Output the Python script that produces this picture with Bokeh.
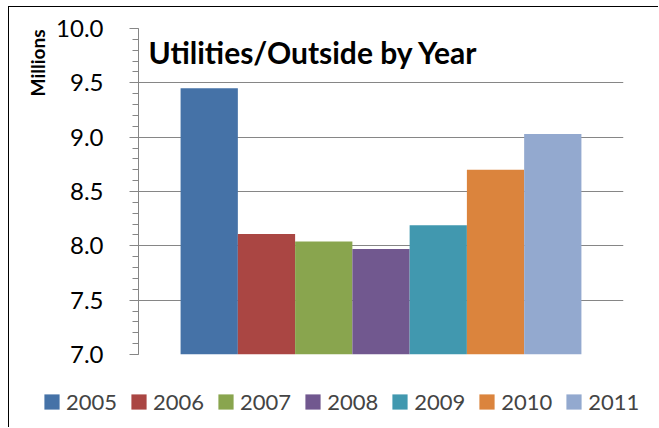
from bokeh.plotting import figure
from bokeh.layouts import column
from bokeh.models import (FactorRange, Range1d, SingleIntervalTicker, Label, Legend,
                          LegendItem, NumeralTickFormatter, ColumnDataSource, Title)
from bokeh.embed import file_html
from bokeh.resources import INLINE

# ---- data ----
years = ["2005", "2006", "2007", "2008", "2009", "2010", "2011"]
values = [9.45, 8.11, 8.04, 7.97, 8.19, 8.70, 9.03]
colors = ["#4572A7", "#AA4643", "#89A54E", "#71588F", "#4198AF", "#DB843D", "#93A9CF"]
y_min, y_max, y_step = 7.0, 10.0, 0.5
title_text = "Utilities/Outside by Year"
unit_text = "Millions"

GRAY = "#868686"
FONT = "Lato"

src = ColumnDataSource(dict(year=years, value=values, color=colors))
x_range = FactorRange(factors=years, range_padding=0.21)

# ---- main chart ----
p = figure(width=649, height=373, x_range=x_range, y_range=Range1d(y_min, y_max),
           x_axis_location=None, output_backend="svg", toolbar_location=None,
           min_border_left=129, min_border_right=35,
           min_border_top=21, min_border_bottom=26)
p.outline_line_color = None
p.background_fill_color = "white"
p.border_fill_color = "white"

r = p.vbar(x="year", top="value", bottom=y_min, width=1.0, fill_color="color",
           line_color=None, source=src)

yax = p.yaxis[0]
yax.ticker = SingleIntervalTicker(interval=y_step, num_minor_ticks=5)
yax.formatter = NumeralTickFormatter(format="0.0")
yax.axis_line_color = GRAY
yax.major_tick_line_color = GRAY
yax.minor_tick_line_color = GRAY
yax.major_tick_out = 9
yax.major_tick_in = 0
yax.minor_tick_out = 6
yax.minor_tick_in = 0
yax.major_label_standoff = 26
yax.major_label_text_font = FONT
yax.major_label_text_font_size = "24px"
yax.major_label_text_color = "black"

p.xgrid.grid_line_color = None
p.ygrid.grid_line_color = GRAY
p.ygrid.grid_line_width = 1

# display-unit label, at the top of the value axis
p.add_layout(Title(text=unit_text, align="right", offset=1, standoff=10,
                   text_font=FONT, text_font_style="bold", text_font_size="19px",
                   text_color="black"), "left")

# chart title inside the plot area
p.add_layout(Label(x=10, y=303, x_units="screen", y_units="screen", text=title_text,
                   text_font=FONT, text_font_style="bold", text_font_size="30px",
                   text_color="black", text_baseline="alphabetic", text_align="left"))

# ---- legend strip ----
pl = figure(width=649, height=47, x_range=x_range, y_range=Range1d(1000, 1001),
            x_axis_location=None, y_axis_location=None,
            output_backend="svg", toolbar_location=None, min_border=0)
pl.outline_line_color = None
pl.grid.grid_line_color = None
pl.border_fill_color = "white"
pl.background_fill_color = "white"
lr = pl.vbar(x="year", top="value", bottom="value", width=0.0, fill_color="color",
             line_color=None, source=src)

for fig in (p, pl):
    if "frame_align" in fig.properties():
        fig.frame_align = False

legend = Legend(items=[LegendItem(label=y, renderers=[lr], index=i) for i, y in enumerate(years)],
                orientation="horizontal", location=(33, 12), padding=0, margin=0,
                spacing=12, label_standoff=5, glyph_width=19, glyph_height=19,
                border_line_color=None, background_fill_alpha=0,
                label_text_font=FONT, label_text_font_size="22px")
pl.add_layout(legend)

layout = column(p, pl, spacing=0)
layout.styles = {"margin-left": "8px", "margin-top": "6px",
                 "border-left": "1px solid #000000", "border-top": "1px solid #000000"}

open("out.html", "w").write(file_html(layout, INLINE))
